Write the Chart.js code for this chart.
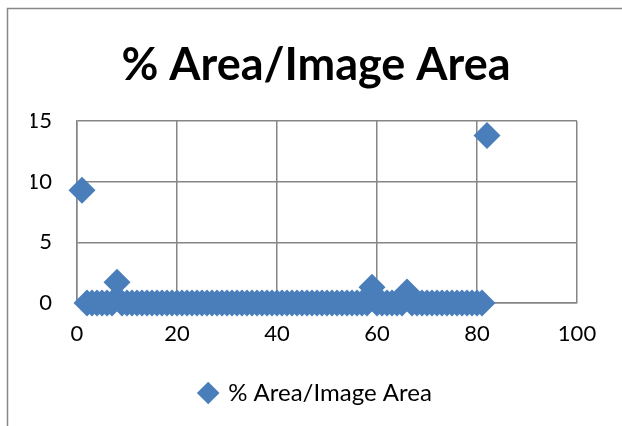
<!DOCTYPE html>
<html>
<head>
<meta charset="utf-8">
<script src="https://cdn.jsdelivr.net/npm/chart.js@4/dist/chart.umd.min.js"></script>
<style>
  html, body { margin: 0; padding: 0; background: #ffffff; }
  #wrap { position: relative; width: 622px; height: 426px; }
</style>
</head>
<body>
<div id="wrap"><canvas id="c" width="622" height="426"></canvas></div>
<script>
// Sample index (1..82) and the measured share of the image area, in percent
const sampleIndex = [
  1, 2, 3, 4, 5, 6, 7, 8, 9, 10,
  11, 12, 13, 14, 15, 16, 17, 18, 19, 20,
  21, 22, 23, 24, 25, 26, 27, 28, 29, 30,
  31, 32, 33, 34, 35, 36, 37, 38, 39, 40,
  41, 42, 43, 44, 45, 46, 47, 48, 49, 50,
  51, 52, 53, 54, 55, 56, 57, 58, 59, 60,
  61, 62, 63, 64, 65, 66, 67, 68, 69, 70,
  71, 72, 73, 74, 75, 76, 77, 78, 79, 80,
  81, 82
];
const areaPercent = [
  9.3, 0, 0, 0, 0, 0, 0, 1.7, 0, 0,
  0, 0, 0, 0, 0, 0, 0, 0, 0, 0,
  0, 0, 0, 0, 0, 0, 0, 0, 0, 0,
  0, 0, 0, 0, 0, 0, 0, 0, 0, 0,
  0, 0, 0, 0, 0, 0, 0, 0, 0, 0,
  0, 0, 0, 0, 0, 0, 0, 0, 1.3, 0,
  0, 0, 0, 0, 0, 0.9, 0, 0, 0, 0,
  0, 0, 0, 0, 0, 0, 0, 0, 0, 0,
  0, 13.8
];
const seriesName = '% Area/Image Area';
const chartTitle = '% Area/Image Area';
const xTicks = [0, 20, 40, 60, 80, 100];
const yTicks = [0, 5, 10, 15];

const points = sampleIndex.map((x, i) => ({ x: x, y: areaPercent[i] }));

const gridColor = '#868686';
const markerColor = '#4A7EBB';
const fontFamily = 'Lato, "Open Sans", sans-serif';

// Frame line along the left and top edges of the chart object
const framePlugin = {
  id: 'frame',
  beforeDraw(chart) {
    const ctx = chart.ctx;
    ctx.save();
    ctx.fillStyle = '#ffffff';
    ctx.fillRect(0, 0, chart.width, chart.height);
    ctx.strokeStyle = '#878787';
    ctx.lineWidth = 1.5;
    ctx.beginPath();
    ctx.moveTo(7.5, chart.height);
    ctx.lineTo(7.5, 8.5);
    ctx.lineTo(chart.width, 8.5);
    ctx.stroke();
    ctx.restore();
  }
};

new Chart(document.getElementById('c'), {
  type: 'scatter',
  data: {
    datasets: [{
      label: seriesName,
      data: points,
      clip: false,
      pointStyle: 'rectRot',
      pointRadius: 13.5,
      pointHoverRadius: 13.5,
      backgroundColor: markerColor,
      borderColor: markerColor,
      borderWidth: 0
    }]
  },
  options: {
    responsive: false,
    animation: false,
    layout: { padding: { left: 31, right: 21, top: 0, bottom: 11 } },
    plugins: {
      tooltip: { enabled: false },
      title: {
        display: true,
        text: chartTitle,
        color: '#000000',
        font: { family: fontFamily, size: 45, weight: 'bold' },
        padding: { top: 38, bottom: 29 }
      },
      legend: {
        display: true,
        position: 'bottom',
        labels: {
          usePointStyle: true,
          pointStyle: 'rectRot',
          boxWidth: 16,
          boxHeight: 16,
          padding: 10,
          color: '#000000',
          font: { family: fontFamily, size: 24 }
        }
      }
    },
    scales: {
      x: {
        type: 'linear',
        min: 0,
        max: 100,
        afterBuildTicks(axis) { axis.ticks = xTicks.map(v => ({ value: v })); },
        afterFit(axis) {
          axis.height = 68;
          axis.paddingRight = 45;
        },
        grid: { color: gridColor, lineWidth: 1.5, drawTicks: false },
        border: { color: gridColor, width: 1.5 },
        ticks: { color: '#000000', padding: 18, font: { family: fontFamily, size: 22 } }
      },
      y: {
        type: 'linear',
        min: 0,
        max: 15,
        afterBuildTicks(axis) { axis.ticks = yTicks.map(v => ({ value: v })); },
        afterFit(axis) { axis.width = 46; },
        grid: { color: gridColor, lineWidth: 1.5, drawTicks: false },
        border: { color: gridColor, width: 1.5 },
        ticks: { color: '#000000', padding: 25, font: { family: fontFamily, size: 22 } }
      }
    }
  },
  plugins: [framePlugin]
});
</script>
</body>
</html>
